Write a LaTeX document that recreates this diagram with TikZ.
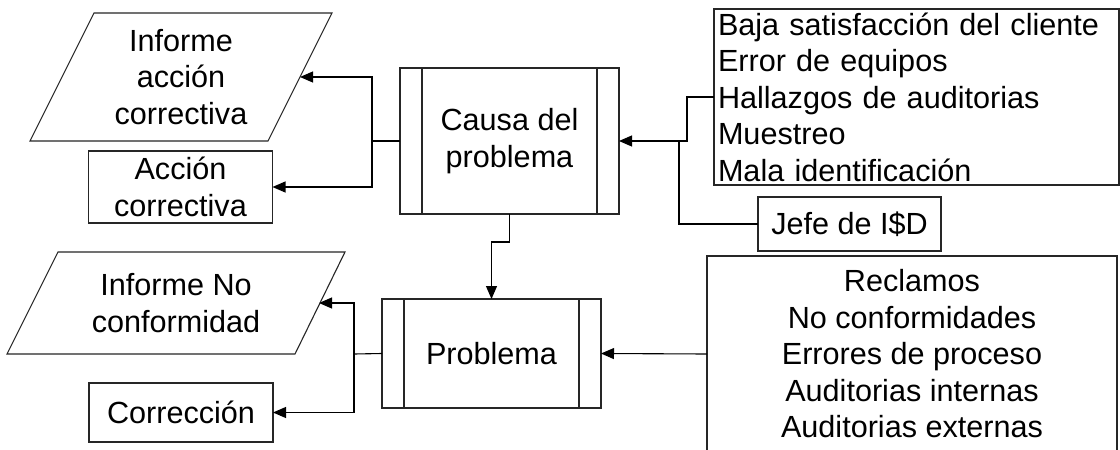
\documentclass[tikz,border=0pt]{standalone}
\usepackage{fontspec}
\setmainfont{Liberation Sans}
\usetikzlibrary{arrows.meta,calc}

\begin{document}
\begin{tikzpicture}[x=1pt,y=-1pt,
  line width=1.1pt,
  every node/.style={font=\fontsize{30.6}{36.5}\selectfont, inner sep=0pt, outer sep=0pt},
  box/.style={draw=black!85, align=center},
  procbox/.style={box,
    path picture={
      \draw[black!85, line width=1.1pt]
        ([xshift=22pt]path picture bounding box.north west) -- ([xshift=22pt]path picture bounding box.south west)
        ([xshift=-22pt]path picture bounding box.north east) -- ([xshift=-22pt]path picture bounding box.south east);
    }},
  iobox/.style={draw=black!85, line join=miter},
  link/.style={draw=black},
  arrowlink/.style={link, -{Triangle[length=13pt,width=11pt]}}
]
\clip (0,0) rectangle (1120,450);
\fill[white] (0,0) rectangle (1120,450);

% --- upper row ---
\draw[iobox] (30,141) -- (94,13) -- (332,13) -- (268,141) -- cycle;
\node[align=center] (informeAC) at (181,77) {Informe\\acción\\correctiva};
\coordinate (informeACin) at (300,77);

\node[box, minimum width=184, minimum height=72] (accion) at (180.5,187) {Acción\\correctiva};

\node[procbox, minimum width=219, minimum height=146] (causa) at (509.5,141) {Causa del\\problema};

\node[draw=black!85, minimum width=405, minimum height=176, text width=397, inner xsep=4pt, align=left] (causas) at (916.5,97)
  {Baja satisfacción del cliente\\Error de equipos\\Hallazgos de auditorias\\Muestreo\\Mala identificación};

\node[box, minimum width=183, minimum height=54] (jefe) at (849.5,224) {Jefe de I\$D};

% --- lower row ---
\draw[iobox] (7,354) -- (58,252) -- (345,252) -- (295,354) -- cycle;
\node[align=center] (informeNC) at (176,303) {Informe No\\conformidad};
\coordinate (informeNCin) at (319,303);

\node[box, minimum width=184, minimum height=59] (correccion) at (181,412.5) {Corrección};

\node[procbox, minimum width=219, minimum height=109] (problema) at (491.5,353.5) {Problema};

\node[box, minimum width=410, minimum height=196] (fuentes) at (912,354)
  {Reclamos\\No conformidades\\Errores de proceso\\Auditorias internas\\Auditorias externas};

% --- connectors ---
\coordinate (splitA) at (372,141);
\draw[link] (causa.west) -- (splitA);
\draw[arrowlink] (splitA) |- (informeACin);
\draw[arrowlink] (splitA) |- (accion.east);

\coordinate (joinC) at (679,141);
\draw[arrowlink] (causas.west) -- ++(-27,0) |- (causa.east);
\draw[link] (jefe.west) -| (joinC);

\draw[arrowlink] (causa.south) -- ++(0,28) -| (problema.north);

\draw[arrowlink] (fuentes.west) -- (problema.east);

\coordinate (splitB) at (354,354);
\draw[link] (problema.west) -- (splitB);
\draw[arrowlink] (splitB) |- (informeNCin);
\draw[arrowlink] (splitB) |- (correccion.east);
\end{tikzpicture}
\end{document}
